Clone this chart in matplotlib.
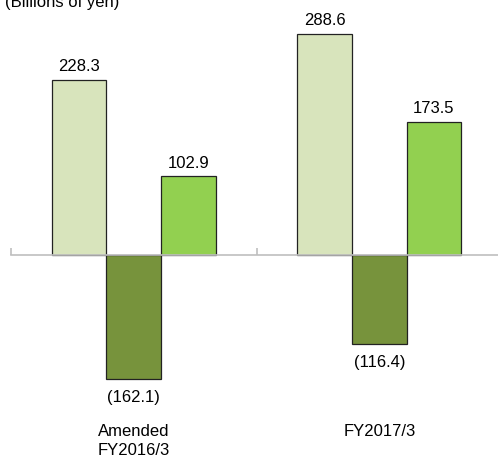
import matplotlib.pyplot as plt
import numpy as np

# Values in billions of yen
categories = ['Amended\nFY2016/3', 'FY2017/3']
series_a = [228.3, 288.6]
series_b = [-162.1, -116.4]
series_c = [102.9, 173.5]
colors = ['#D8E4BC', '#77933C', '#92D050']

plt.rcParams['font.family'] = ['Liberation Sans', 'DejaVu Sans']

fig = plt.figure(figsize=(4.98, 4.59), dpi=100)
ax = fig.add_axes([11 / 498, 0, 491 / 498, 1])

x = np.arange(len(categories))
w = 0.222
for off, vals, c in zip([-w, 0, w], [series_a, series_b, series_c], colors):
    bars = ax.bar(x + off, vals, w, color=c, edgecolor='#222222', linewidth=0.9, zorder=2)
    for b, v in zip(bars, vals):
        cx = b.get_x() + b.get_width() / 2
        if v >= 0:
            ax.annotate(f'{v:.1f}', (cx, v), xytext=(0, 4), textcoords='offset points',
                        ha='center', va='bottom', fontsize=12)
        else:
            ax.annotate(f'({-v:.1f})', (cx, v), xytext=(0, -8), textcoords='offset points',
                        ha='center', va='top', fontsize=12)

ax.set_xlim(-0.5, 1.5)
ax.set_ylim(-266, 332.5)

for xi, lab in zip(x, categories):
    ax.text(xi, -221, lab, ha='center', va='top', fontsize=12, linespacing=1.3)

for s in ['top', 'right', 'left']:
    ax.spines[s].set_visible(False)
ax.spines['bottom'].set_position(('data', 0))
ax.spines['bottom'].set_color('#BFBFBF')
ax.spines['bottom'].set_linewidth(1.2)
ax.set_yticks([])
ax.set_xticks([-0.5, 0.5, 1.5])
ax.set_xticklabels([])
ax.tick_params(axis='x', direction='in', length=5, color='#BFBFBF', width=1.2)

# partly cut off at the top edge, as in the reference
fig.text(5 / 498, 1 - 2 / 459, '(Billions of yen)', ha='left', va='center', fontsize=12)

fig.savefig('out.png', dpi=100)
